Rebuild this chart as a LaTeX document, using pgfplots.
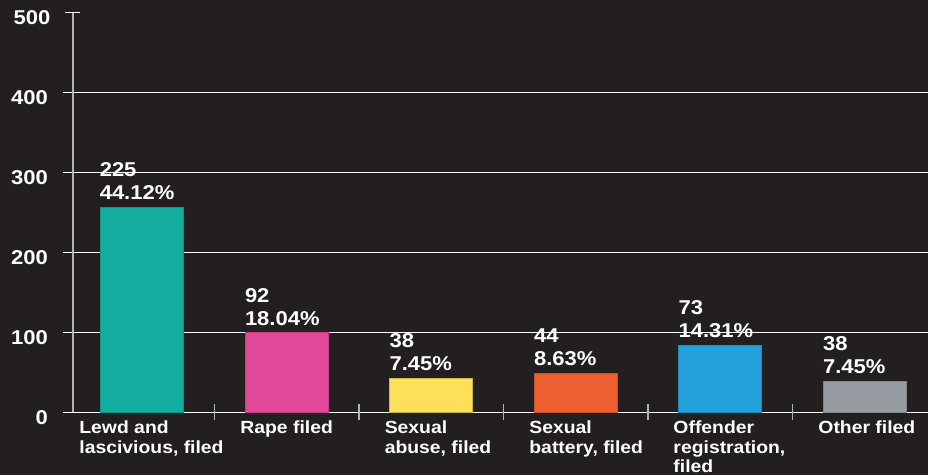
\documentclass[border=0pt]{standalone}
\usepackage{fontspec}
\setmainfont{Liberation Sans}[FakeStretch=1.1]
\usepackage{xcolor}
\usepackage{pgfplots}
\pgfplotsset{compat=1.18}
\usetikzlibrary{backgrounds}
\definecolor{bg}{HTML}{231F20}
\definecolor{axgray}{HTML}{B4B4B4}
\definecolor{cteal}{HTML}{13AE9F}
\definecolor{cpink}{HTML}{E3479A}
\definecolor{cyellow}{HTML}{FDE05A}
\definecolor{corange}{HTML}{EE5F2F}
\definecolor{cblue}{HTML}{22A1DC}
\definecolor{cgray}{HTML}{979CA3}
\begin{document}
\begin{tikzpicture}[show background rectangle, background rectangle/.style={fill=bg, draw=none}, inner frame sep=0pt]
\begin{axis}[
  scale only axis, width=427.5pt, height=200pt,
  xmin=-0.4775, xmax=5.439, ymin=0, ymax=500,
  axis lines=left, axis line style={-},
  x axis line style={draw=none},
  y axis line style={draw=axgray, line width=0.75pt},
  xtick=\empty,
  ytick={0,100,200,300,400},
  ymajorgrids, grid style={white, line width=0.75pt},
  tick align=outside, major tick length=5pt,
  ytick style={white, line width=0.75pt},
  extra y ticks={500}, extra y tick labels={500},
  extra y tick style={grid=none, tick align=center, major tick length=7.5pt},
  extra x ticks={0.5,1.5,2.5,3.5,4.5}, extra x tick labels={},
  extra x tick style={tick align=center, major tick length=8pt, tick style={axgray, line width=0.75pt}},
  /pgf/number format/assume math mode=true,
  yticklabel style={font=\bfseries\fontsize{10}{12}\selectfont, text=white, yshift=-2.5pt, xshift=-4pt},
  ybar, bar width=0.575, bar shift=0pt,
  clip=false,
]
\addplot[fill=cteal, draw=cteal!85!black, line width=0.4pt] coordinates {(0,256)};
\addplot[fill=cpink, draw=cpink!85!black, line width=0.4pt] coordinates {(1,99.5)};
\addplot[fill=cyellow, draw=cyellow!80!black, line width=0.4pt] coordinates {(2,42.5)};
\addplot[fill=corange, draw=corange!85!black, line width=0.4pt] coordinates {(3,48.7)};
\addplot[fill=cblue, draw=cblue!85!black, line width=0.4pt] coordinates {(4,84)};
\addplot[fill=cgray, draw=cgray!85!black, line width=0.4pt] coordinates {(5,39)};
% value labels
\tikzset{vl/.style={anchor=south west, inner sep=0pt, yshift=3.5pt, align=left, text=white,
  font=\bfseries\fontsize{10}{11.5}\selectfont}}
\node[vl] at (axis cs:-0.295,256) {225\\44.12\%};
\node[vl] at (axis cs:0.71,99.5) {92\\18.04\%};
\node[vl] at (axis cs:1.71,42.5) {38\\7.45\%};
\node[vl] at (axis cs:2.71,48.7) {44\\8.63\%};
\node[vl] at (axis cs:3.71,84) {73\\14.31\%};
\node[vl] at (axis cs:4.71,39) {38\\7.45\%};
% category labels
\tikzset{cl/.style={anchor=north west, inner sep=0pt, yshift=-4pt, align=left, text=white,
  font=\bfseries\fontsize{8.8}{9.8}\selectfont}}
\node[cl] at (axis cs:-0.436,0) {Lewd and\\lascivious, filed};
\node[cl] at (axis cs:0.678,0) {Rape filed};
\node[cl] at (axis cs:1.677,0) {Sexual\\abuse, filed};
\node[cl] at (axis cs:2.678,0) {Sexual\\battery, filed};
\node[cl] at (axis cs:3.675,0) {Offender\\registration,\\filed};
\node[cl] at (axis cs:4.678,0) {Other filed};
\end{axis}
\pgfresetboundingbox
\path ([xshift=-36.5pt,yshift=-31.35pt]current axis.south west) rectangle ([yshift=6.15pt]current axis.north east);
\end{tikzpicture}
\end{document}
